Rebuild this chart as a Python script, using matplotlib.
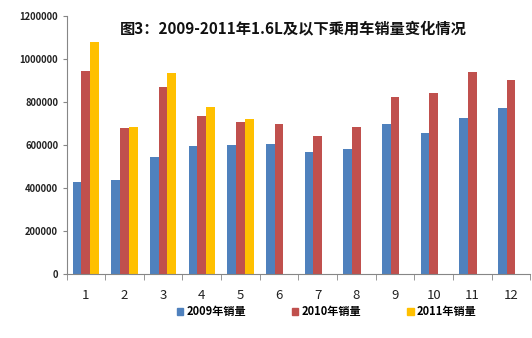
import numpy as np
import matplotlib.pyplot as plt
from matplotlib.patches import Patch
from matplotlib.ticker import FixedLocator

plt.rcParams['font.family'] = ['Noto Sans CJK SC', 'DejaVu Sans']

months = [str(m) for m in range(1, 13)]
sales_2009 = [426000, 436000, 545000, 594000, 600000, 605000,
              567000, 583000, 698000, 656000, 726000, 771000]
sales_2010 = [942000, 677000, 868000, 736000, 707000, 698000,
              642000, 685000, 823000, 840000, 940000, 902000]
sales_2011 = [1080000, 683000, 933000, 778000, 719000]
series_names = ['2009年销量', '2010年销量', '2011年销量']
colors = ['#4F81BD', '#C0504D', '#FFC000']
yticks = [0, 200000, 400000, 600000, 800000, 1000000, 1200000]

fig = plt.figure(figsize=(5.32, 3.38), dpi=100)
ax = fig.add_axes([0.125, 0.189, 0.872, 0.764])

x = np.arange(len(months))
w = 0.225
ax.bar(x - w, sales_2009, w, color=colors[0])
ax.bar(x, sales_2010, w, color=colors[1])
ax.bar(np.arange(len(sales_2011)) + w, sales_2011, w, color=colors[2])

ax.set_xlim(-0.5, len(months) - 0.5)
ax.set_ylim(0, 1200000)
ax.set_yticks(yticks)
ax.set_yticklabels([str(v) for v in yticks], fontsize=6.8, fontweight='bold',
                   color='#222222')
ax.set_xticks(x)
ax.set_xticklabels(months, fontsize=9.5, color='#222222')
ax.xaxis.set_minor_locator(FixedLocator(np.arange(-0.5, len(months), 1)))
ax.tick_params(axis='x', which='major', length=0, pad=11)
ax.tick_params(axis='x', which='minor', length=4, direction='out', color='#868686')
ax.tick_params(axis='y', length=3, color='#868686', pad=3)

for side in ['top', 'right']:
    ax.spines[side].set_visible(False)
for side in ['left', 'bottom']:
    ax.spines[side].set_color('#868686')
    ax.spines[side].set_linewidth(0.8)

fig.text(0.551, 0.914, '图3：2009-2011年1.6L及以下乘用车销量变化情况',
         ha='center', va='center', fontsize=11, fontweight='bold', color='#111111')

handles = [Patch(color=c) for c in colors]
fig.legend(handles, series_names, loc='center', bbox_to_anchor=(0.614, 0.077),
           ncol=3, frameon=False, handlelength=0.6, handleheight=0.6,
           handletextpad=0.3, columnspacing=4.1,
           prop={'size': 8, 'weight': 'bold'})

fig.savefig('out.png', dpi=100)
